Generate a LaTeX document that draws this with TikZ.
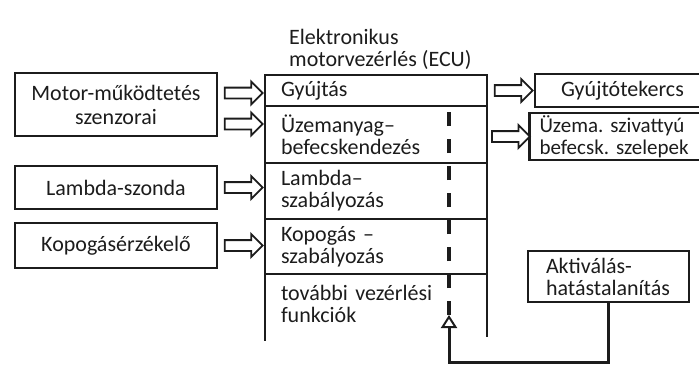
\documentclass[tikz,border=0pt]{standalone}
\usepackage{fontspec}
\setmainfont{Carlito}
\usetikzlibrary{arrows.meta, positioning, shapes.arrows, calc}
\definecolor{ecuInk}{HTML}{1C1C1C}
\tikzset{
  ecu-box/.style={
    rectangle, draw=ecuInk, line width=2.2pt, align=center,
    inner sep=0pt, outer sep=0pt, text=ecuInk
  },
  ecu-row/.style={
    rectangle, draw=ecuInk, line width=2.2pt, minimum width=222pt,
    text width=190pt, align=left, inner xsep=16pt, inner ysep=0pt,
    outer sep=0pt, text=ecuInk
  },
  ecu-hollow/.style={
    single arrow, draw=ecuInk, line width=1.8pt, fill=white,
    minimum height=38pt, inner sep=4.5pt,
    single arrow head extend=6pt
  },
  ecu-side/.style={draw=ecuInk, line width=2.2pt},
  ecu-bus/.style={draw=ecuInk, line width=3.2pt, dash pattern=on 14pt off 13pt},
  ecu-feed/.style={draw=ecuInk, line width=3pt,
    -{Triangle[open, length=13pt, width=16pt, line width=2pt]}},
}

\begin{document}
\frenchspacing
\begin{tikzpicture}[x=1pt, y=-1pt, font=\fontsize{22}{22}\selectfont]
  \clip (0,0) rectangle (699,381);

  % sensors
  \node[ecu-box, minimum width=202pt, minimum height=63pt, font=\fontsize{22}{24}\selectfont] (motor) at (116,104.5) {Motor-működtetés\\szenzorai};
  \node[ecu-box, minimum width=202pt, minimum height=43pt, below=30pt of motor] (lambda) {Lambda-szonda};
  \node[ecu-box, minimum width=202pt, minimum height=45pt, below=14pt of lambda] (kopog) {Kopogásérzékelő};

  % ECU column
  \node[ecu-row, minimum height=31pt, anchor=north west] (gyujt) at (265,75) {Gyújtás};
  \node[ecu-row, minimum height=57pt, below=0pt of gyujt]  (uzem)   {Üzemanyag--\\befecskendezés};
  \node[ecu-row, minimum height=56pt, below=0pt of uzem]   (lamreg) {Lambda--\\szabályozás};
  \node[ecu-row, minimum height=55pt, below=0pt of lamreg] (kopreg) {Kopogás --\\szabályozás};
  \node[ecu-row, minimum height=60pt, below=0pt of kopreg, draw=none] (tovabb) {további vezérlési\\funkciók};
  \draw[ecu-side] (tovabb.north west) -- ++(0,67);
  \draw[ecu-side] (tovabb.north east) -- ++(0,63);
  \node[align=left, inner sep=3pt, text=ecuInk, above=2pt of gyujt.north west, anchor=south west, xshift=21pt] (title) {Elektronikus\\motorvezérlés (ECU)};

  % actuators
  \node[ecu-box, minimum height=33pt, anchor=north west, text width=175pt] (tekercs) at (535,74) {Gyújtótekercs};
  \node[ecu-box, minimum height=47pt, below=6pt of tekercs, align=left, text width=166pt, inner xsep=10pt, font=\fontsize{21}{22}\selectfont] (szivatty) {Üzema. szivattyú\\befecsk. szelepek};
  \node[ecu-box, minimum width=150pt, minimum height=51pt, anchor=north west, align=left, text width=125pt, inner xsep=18pt] (aktiv) at (528,251) {Aktiválás-\\hatástalanítás};

  % hollow arrows
  \path ([yshift=11.5pt]motor.east) -- ([yshift=11.5pt]motor.east -| gyujt.west) node[midway, ecu-hollow]{};
  \path ([yshift=-19.5pt]motor.east) -- ([yshift=-19.5pt]motor.east -| gyujt.west) node[midway, ecu-hollow]{};
  \path (lambda.east) -- (lambda.east -| gyujt.west) node[midway, ecu-hollow]{};
  \path (kopog.east) -- (kopog.east -| gyujt.west) node[midway, ecu-hollow]{};
  \path (tekercs.west -| gyujt.east) -- (tekercs.west) node[midway, ecu-hollow]{};
  \path (szivatty.west -| gyujt.east) -- (szivatty.west) node[midway, ecu-hollow]{};

  % control bus and feedback
  \coordinate (bustop) at (449,106);
  \coordinate (bustip) at (449,315);
  \draw[ecu-bus] (bustip) -- (bustop);
  \draw[ecu-feed] (aktiv.south) -- (aktiv.south |- 0,362) -| (bustip);
\end{tikzpicture}
\end{document}
